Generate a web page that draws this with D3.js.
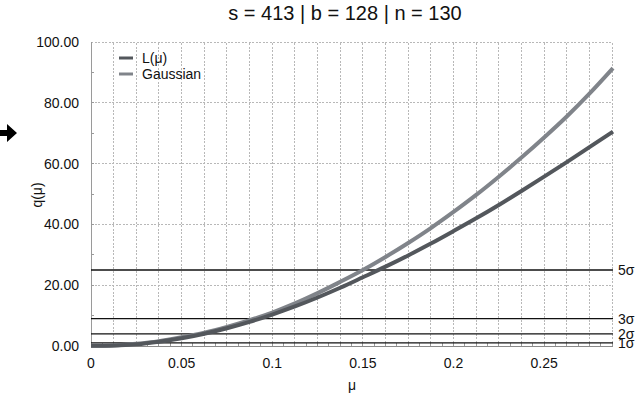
<!DOCTYPE html>
<html>
<head>
<meta charset="utf-8">
<script src="https://cdn.jsdelivr.net/npm/d3@7"></script>
<style>
  html, body { margin: 0; padding: 0; background: #fff; }
  svg { display: block; font-family: Helvetica, Arial, "Liberation Sans", sans-serif; }
</style>
</head>
<body>
<svg id="chart" width="642" height="400"></svg>
<script>
// Signal strength values and the test statistic q(μ) for both curves
const mu = [0, 0.0125, 0.025, 0.0375, 0.05, 0.0625, 0.075, 0.0875, 0.1, 0.1125, 0.125, 0.1375,
            0.15, 0.1625, 0.175, 0.1875, 0.2, 0.2125, 0.225, 0.2375, 0.25, 0.2625, 0.275, 0.288];
const qLikelihood = [0.05, 0.15, 0.55, 1.4, 2.55, 4.05, 5.85, 7.95, 10.35, 13.0, 15.95, 19.15,
                     22.6, 26.1, 29.8, 33.7, 37.8, 42.0, 46.4, 51.0, 55.7, 60.5, 65.4, 70.5];
const qGaussian = [0.05, 0.2, 0.75, 1.6, 2.9, 4.4, 6.3, 8.5, 11.0, 14.0, 17.4, 21.1,
                   25.0, 29.3, 33.9, 38.8, 44.1, 49.7, 55.7, 62.0, 68.6, 75.5, 83.0, 91.4];

// Significance reference levels
const sigmaQ = [1, 4, 9, 25];
const sigmaLabels = ["1σ", "2σ", "3σ", "5σ"];

// Axis ticks
const xTicks = [0, 0.05, 0.1, 0.15, 0.2, 0.25];
const xTickLabels = ["0", "0.05", "0.1", "0.15", "0.2", "0.25"];
const yTicks = [0, 20, 40, 60, 80, 100];
const yTickLabels = ["0.00", "20.00", "40.00", "60.00", "80.00", "100.00"];

const seriesNames = ["L(μ)", "Gaussian"];
const seriesColors = ["#53575c", "#80848a"];
const titleText = "s = 413 | b = 128 | n = 130";

const svg = d3.select("#chart");
const W = 642, H = 400;
const m = { top: 42, right: 29, bottom: 54, left: 91 };

const x = d3.scaleLinear().domain([0, 0.288]).range([m.left, W - m.right]);
const y = d3.scaleLinear().domain([0, 100]).range([H - m.bottom, m.top]);

// Dotted grid: fine vertical lines, horizontal lines at labelled values
const grid = svg.append("g").attr("stroke", "#b8b8b8").attr("stroke-width", 1)
  .attr("stroke-dasharray", "2,1.5").attr("shape-rendering", "crispEdges");
grid.selectAll("line.v").data(d3.range(1, 24).map(k => k * 0.0125)).join("line")
  .attr("x1", d => x(d)).attr("x2", d => x(d))
  .attr("y1", y(0)).attr("y2", y(100));
grid.selectAll("line.h").data(yTicks.filter(d => d > 0)).join("line")
  .attr("x1", x(0)).attr("x2", x(0.288))
  .attr("y1", d => y(d)).attr("y2", d => y(d));

// Axis lines
svg.append("line").attr("x1", x(0)).attr("x2", x(0)).attr("y1", y(0)).attr("y2", y(100))
  .attr("stroke", "#9a9a9a").attr("shape-rendering", "crispEdges");
svg.append("line").attr("x1", x(0)).attr("x2", x(0.288)).attr("y1", y(0) + 0.5).attr("y2", y(0) + 0.5)
  .attr("stroke", "#8a8a8a");

// Minor ticks pointing into the plot
svg.append("g").selectAll("line").data(d3.range(1, 47).map(k => k * 0.00625)).join("line")
  .attr("x1", d => x(d)).attr("x2", d => x(d))
  .attr("y1", y(0)).attr("y2", y(0) - 3)
  .attr("stroke", "#9a9a9a").attr("shape-rendering", "crispEdges");
svg.append("g").selectAll("line").data(d3.range(1, 10).map(k => k * 10)).join("line")
  .attr("x1", x(0)).attr("x2", x(0) + 3)
  .attr("y1", d => y(d)).attr("y2", d => y(d))
  .attr("stroke", "#9a9a9a").attr("shape-rendering", "crispEdges");

// Tick labels
svg.append("g").selectAll("text").data(xTicks).join("text")
  .attr("x", d => x(d)).attr("y", y(0) + 22)
  .attr("text-anchor", "middle").attr("font-size", 14).attr("fill", "#111")
  .text((d, i) => xTickLabels[i]);
svg.append("g").selectAll("text").data(yTicks).join("text")
  .attr("x", x(0) - 12).attr("y", d => y(d) + 5)
  .attr("text-anchor", "end").attr("font-size", 14).attr("fill", "#111")
  .text((d, i) => yTickLabels[i]);

// Sigma levels
const sig = svg.append("g");
sig.selectAll("line").data(sigmaQ).join("line")
  .attr("x1", x(0)).attr("x2", x(0.288))
  .attr("y1", d => y(d)).attr("y2", d => y(d))
  .attr("stroke", "#111").attr("stroke-width", 1.3);
sig.selectAll("text").data(sigmaQ).join("text")
  .attr("x", x(0.288) + 5).attr("y", d => y(d) + 5)
  .attr("font-size", 14).attr("fill", "#111")
  .text((d, i) => sigmaLabels[i]);

// Curves
const line = d3.line().curve(d3.curveMonotoneX).x(d => x(d[0])).y(d => y(d[1]));
const series = [d3.zip(mu, qLikelihood), d3.zip(mu, qGaussian)];
svg.append("g").selectAll("path").data([1, 0]).join("path")
  .attr("d", i => line(series[i]))
  .attr("fill", "none").attr("stroke", i => seriesColors[i])
  .attr("stroke-width", 4).attr("stroke-linecap", "butt");

// Legend
const leg = svg.append("g");
seriesNames.forEach((name, i) => {
  const ly = 58 + i * 16;
  leg.append("line").attr("x1", 119).attr("x2", 133).attr("y1", ly).attr("y2", ly)
    .attr("stroke", seriesColors[i]).attr("stroke-width", 3);
  leg.append("text").attr("x", 142).attr("y", ly + 5).attr("font-size", 14).attr("fill", "#111").text(name);
});

// Title and axis labels
svg.append("text").attr("x", 345).attr("y", 20).attr("text-anchor", "middle")
  .attr("font-size", 20).attr("fill", "#111").text(titleText);
svg.append("text").attr("x", x(0.144)).attr("y", 390).attr("text-anchor", "middle")
  .attr("font-size", 14).attr("fill", "#111").text("μ");
svg.append("text").attr("transform", "translate(42,195) rotate(-90)")
  .attr("text-anchor", "middle").attr("font-size", 14).attr("fill", "#111").text("q(μ)");

// Pointer arrow at the left edge
svg.append("path")
  .attr("d", "M0,130 L7,130 L7,124 L17,133 L7,142 L7,136 L0,136 Z")
  .attr("fill", "#000");
</script>
</body>
</html>
